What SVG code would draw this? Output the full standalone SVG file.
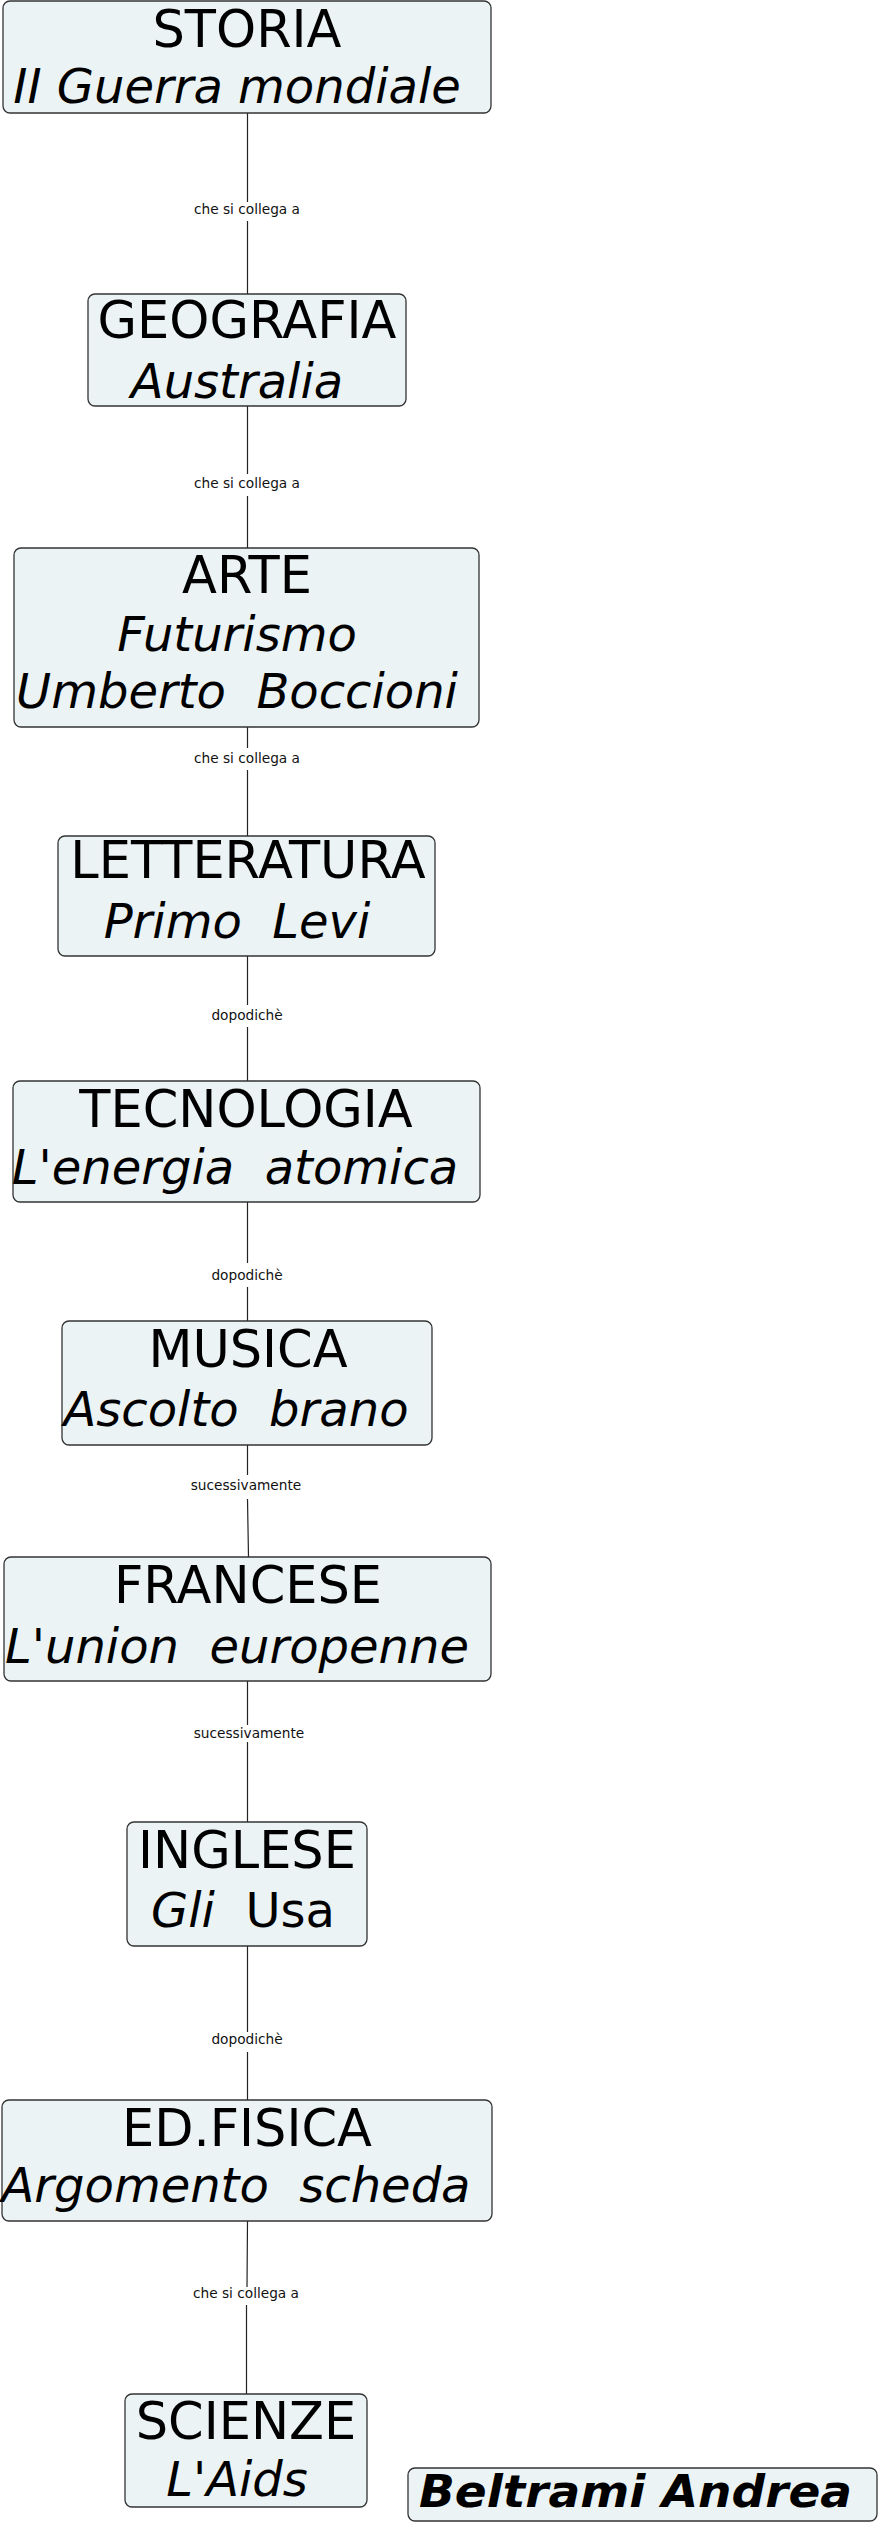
<svg xmlns="http://www.w3.org/2000/svg" width="878" height="2524" viewBox="0 0 878 2524">
<style>
.box{fill:#ebf3f5;stroke:#333;stroke-width:1.3}
.h{font-family:"DejaVu Sans",Verdana,sans-serif;font-size:51px;fill:#000;text-anchor:middle}
.i{font-family:"DejaVu Sans",Verdana,sans-serif;font-size:48px;font-style:italic;fill:#000;text-anchor:middle}
.lbl{font-family:"DejaVu Sans",Verdana,sans-serif;font-size:13.7px;fill:#111;text-anchor:middle}
.ln{stroke:#222;stroke-width:1.2;fill:none}
</style>
<rect width="878" height="2524" fill="#fff"/>
<g id="connectors">
<path class="ln" d="M247.5 113V202M247.5 221V294"/>
<text class="lbl" x="247" y="214">che si collega a</text>
<path class="ln" d="M247.5 406V474M247.5 496V548"/>
<text class="lbl" x="247" y="488">che si collega a</text>
<path class="ln" d="M247.5 727V748M247.5 770V836"/>
<text class="lbl" x="247" y="763">che si collega a</text>
<path class="ln" d="M247.5 956V1005M247.5 1027V1081"/>
<text class="lbl" x="247" y="1020">dopodichè</text>
<path class="ln" d="M247.5 1202V1263M247.5 1287V1321"/>
<text class="lbl" x="247" y="1280">dopodichè</text>
<path class="ln" d="M247.5 1445V1475M247.5 1499L248.5 1557"/>
<text class="lbl" x="246" y="1490">sucessivamente</text>
<path class="ln" d="M247.5 1681V1725M247.5 1742V1822"/>
<text class="lbl" x="249" y="1738">sucessivamente</text>
<path class="ln" d="M247.5 1946V2032M247.5 2052V2100"/>
<text class="lbl" x="247" y="2044">dopodichè</text>
<path class="ln" d="M247.5 2221L247 2287M246.5 2305V2394"/>
<text class="lbl" x="246" y="2298">che si collega a</text>
</g>
<g id="storia">
<rect class="box" x="3" y="1" width="488" height="112" rx="7"/>
<text class="h" x="247" y="47">STORIA</text>
<text class="i" x="237" y="103">II Guerra mondiale</text>
</g>
<g id="geografia">
<rect class="box" x="88" y="294" width="318" height="112" rx="7"/>
<text class="h" x="247" y="338">GEOGRAFIA</text>
<text class="i" x="237" y="398">Australia</text>
</g>
<g id="arte">
<rect class="box" x="14" y="548" width="465" height="179" rx="7"/>
<text class="h" x="247" y="593">ARTE</text>
<text class="i" x="237" y="651">Futurismo</text>
<text class="i" x="237" y="708" xml:space="preserve">Umberto  Boccioni</text>
</g>
<g id="letteratura">
<rect class="box" x="58" y="836" width="377" height="120" rx="7"/>
<text class="h" x="248" y="878">LETTERATURA</text>
<text class="i" x="237" y="938" xml:space="preserve">Primo  Levi</text>
</g>
<g id="tecnologia">
<rect class="box" x="13" y="1081" width="467" height="121" rx="7"/>
<text class="h" x="246" y="1127">TECNOLOGIA</text>
<text class="i" x="235" y="1184" xml:space="preserve">L'energia  atomica</text>
</g>
<g id="musica">
<rect class="box" x="62" y="1321" width="370" height="124" rx="7"/>
<text class="h" x="248" y="1367">MUSICA</text>
<text class="i" x="236" y="1426" xml:space="preserve">Ascolto  brano</text>
</g>
<g id="francese">
<rect class="box" x="4" y="1557" width="487" height="124" rx="7"/>
<text class="h" x="248" y="1603">FRANCESE</text>
<text class="i" x="237" y="1663" xml:space="preserve">L'union  europenne</text>
</g>
<g id="inglese">
<rect class="box" x="127" y="1822" width="240" height="124" rx="7"/>
<text class="h" x="247" y="1868">INGLESE</text>
<text class="i" x="243" y="1927" xml:space="preserve">Gli  <tspan font-style="normal">Usa</tspan></text>
</g>
<g id="edfisica">
<rect class="box" x="2" y="2100" width="490" height="121" rx="7"/>
<text class="h" x="247" y="2146">ED.FISICA</text>
<text class="i" x="236" y="2202" xml:space="preserve">Argomento  scheda</text>
</g>
<g id="scienze">
<rect class="box" x="125" y="2394" width="242" height="113" rx="7"/>
<text class="h" x="246" y="2439">SCIENZE</text>
<text class="i" x="237" y="2496">L'Aids</text>
</g>
<g id="autore">
<rect class="box" x="408" y="2468" width="469" height="53" rx="7"/>
<text x="419" y="2507" font-family="DejaVu Sans, Verdana, sans-serif" font-size="44" font-weight="bold" font-style="italic" textLength="433" lengthAdjust="spacingAndGlyphs">Beltrami Andrea</text>
</g>
</svg>
